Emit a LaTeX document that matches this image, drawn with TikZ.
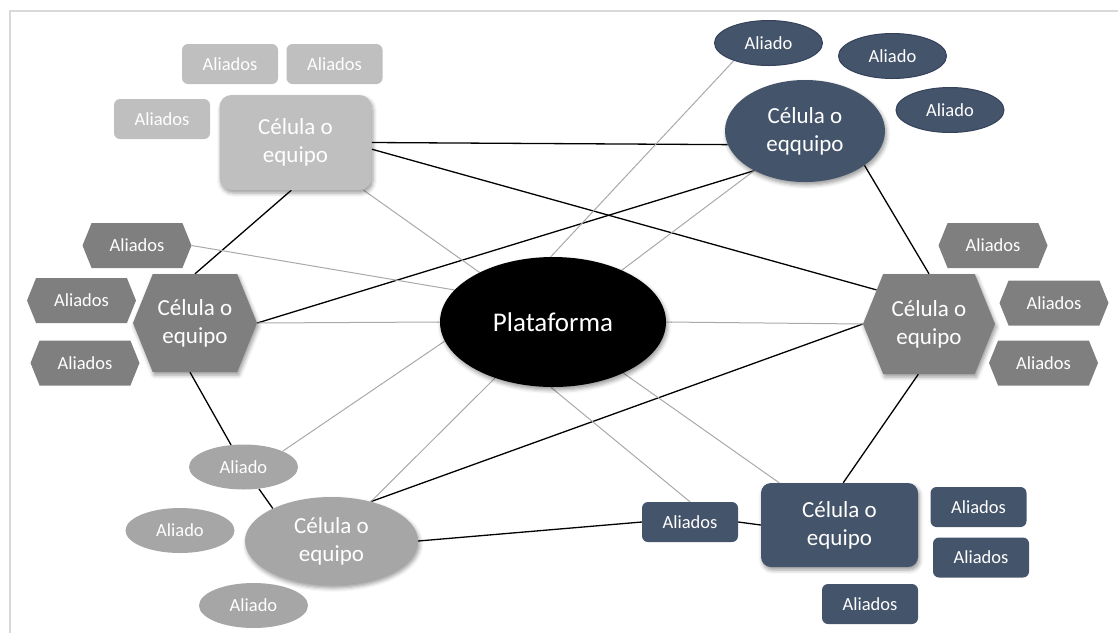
\documentclass[tikz,border=0pt]{standalone}
\usepackage{fontspec}
\setmainfont{Carlito}
\usetikzlibrary{shapes.geometric,shapes.symbols,shadows.blur,backgrounds}

\definecolor{slate}{HTML}{44546A}
\definecolor{slateedge}{HTML}{35425A}
\definecolor{lightgrey}{HTML}{BFBFBF}
\definecolor{midgrey}{HTML}{A6A6A6}
\definecolor{darkgrey}{HTML}{7F7F7F}
\definecolor{linkgrey}{HTML}{A9A9A9}
\definecolor{framegrey}{HTML}{D9D9D9}

\tikzset{
  softshadow/.style={blur shadow={shadow xshift=1.5pt, shadow yshift=-3pt,
      shadow blur radius=4pt, shadow opacity=40}},
  celltext/.style={text=white, align=center, inner sep=0pt,
      font=\fontsize{23}{28}\selectfont},
  allytext/.style={text=white, inner sep=0pt, font=\fontsize{18.5}{22}\selectfont},
  hubnode/.style={ellipse, fill=black, inner sep=0pt, text=white,
      minimum width=226pt, minimum height=130pt,
      font=\fontsize{27}{32}\selectfont, softshadow},
  % team cells
  lightcell/.style={celltext, rectangle, rounded corners=12pt, fill=lightgrey,
      minimum width=152pt, minimum height=95pt, softshadow},
  slateoval/.style={celltext, ellipse, fill=slate,
      minimum width=160pt, minimum height=102pt, softshadow},
  greyhex/.style={celltext, signal, signal to=east and west,
      signal pointer angle=136, fill=darkgrey,
      minimum width=124pt, minimum height=98pt, softshadow},
  greyoval/.style={celltext, ellipse, fill=midgrey,
      minimum width=173pt, minimum height=88pt, softshadow},
  slatecell/.style={celltext, rectangle, rounded corners=10pt, fill=slate,
      minimum width=157pt, minimum height=84pt, softshadow},
  % allies
  lightally/.style={allytext, rectangle, rounded corners=6pt, fill=lightgrey,
      minimum width=96pt, minimum height=40pt},
  slateovally/.style={allytext, ellipse, fill=slate, draw=slateedge, line width=1pt,
      minimum width=108pt, minimum height=45pt},
  greyhexally/.style={allytext, signal, signal to=east and west,
      signal pointer angle=136, fill=darkgrey,
      minimum width=109pt, minimum height=45pt},
  greyovally/.style={allytext, ellipse, fill=midgrey,
      minimum width=109pt, minimum height=45pt},
  slateally/.style={allytext, rectangle, rounded corners=6pt, fill=slate,
      minimum width=96pt, minimum height=40pt},
  % links
  strong/.style={draw=black, line width=1.3pt},
  weak/.style={draw=linkgrey, line width=1pt},
}

\begin{document}
\begin{tikzpicture}[x=1pt, y=-1pt]
  \useasboundingbox (0,0) rectangle (1118,633);

  % central platform
  \node[hubnode] (plat) at (553,322) {Plataforma};

  % top-left cell and its allies
  \node[lightcell] (tl) at (295.5,142.5) {Célula o\\equipo};
  \node[lightally] (tla1) at (230,64) {Aliados};
  \node[lightally] (tla2) at (334.5,64) {Aliados};
  \node[lightally] (tla3) at (162,119) {Aliados};

  % top-right cell and its allies
  \node[slateoval] (tr) at (805,131) {Célula o\\eqquipo};
  \node[slateovally] (tra1) at (768.5,43) {Aliado};
  \node[slateovally] (tra2) at (892.5,56) {Aliado};
  \node[slateovally] (tra3) at (950,110) {Aliado};

  % left cell and its allies
  \node[greyhex] (lhex) at (195,323) {Célula o\\equipo};
  \node[greyhexally] (lha1) at (137,245.5) {Aliados};
  \node[greyhexally] (lha2) at (81.5,300.5) {Aliados};
  \node[greyhexally] (lha3) at (85,363) {Aliados};

  % right cell and its allies
  \node[greyhex, minimum width=132pt, minimum height=100pt] (rhex) at (929,324) {Célula o\\equipo};
  \node[greyhexally] (rha1) at (993,245.5) {Aliados};
  \node[greyhexally] (rha2) at (1054,303) {Aliados};
  \node[greyhexally] (rha3) at (1043.5,363) {Aliados};

  % bottom-left cell and its allies
  \node[greyoval] (bl) at (331.5,541) {Célula o\\equipo};
  \node[greyovally] (bla1) at (243.5,467) {Aliado};
  \node[greyovally] (bla2) at (180,530.5) {Aliado};
  \node[greyovally] (bla3) at (253.5,605.5) {Aliado};

  % bottom-right cell and its allies
  \node[slatecell] (br) at (839.5,525) {Célula o\\equipo};
  \node[slateally] (bra) at (690,522) {Aliados};
  \node[slateally] (brb) at (978.5,507) {Aliados};
  \node[slateally] (brc) at (981,557.5) {Aliados};
  \node[slateally] (brd) at (870,604) {Aliados};

  \begin{scope}[on background layer]
    % page frame
    \draw[framegrey, line width=1.5pt] (10,633) -- (10,11) -- (1118,11);

    % links between cells
    \draw[strong] (tl.east) -- (tr.190);
    \draw[strong] (tl.-5) -- (rhex.147);
    \draw[strong] (tl.-95) -- (lhex.north);
    \draw[strong] (lhex.east) -- (tr.218);
    \draw[strong] ([xshift=-5pt]lhex.south) -- (bla1);
    \draw[strong] (bla1) -- (bl.151);
    \draw[strong] (bl.45) -- (rhex.west);
    \draw[strong] (bl.east) -- (bra.west);
    \draw[strong] (bra.east) -- (br.west);
    \draw[strong] (br.85) -- (rhex.-102);
    \draw[strong] (tr.-30) -- (rhex.north);

    % links to the platform
    \draw[weak] (tl.-35) -- (plat.146);
    \draw[weak] (lha1.east) -- (plat.162);
    \draw[weak] (lhex.east) -- (plat.west);
    \draw[weak] (plat.190) -- (bla1.22);
    \draw[weak] (plat.224) -- (bl.45);
    \draw[weak] (plat.-92) -- (bra.north);
    \draw[weak] (plat.-36) -- (br.145);
    \draw[weak] (plat.east) -- (rhex.west);
    \draw[weak] (plat.92) -- (tra1.207);
    \draw[weak] (plat.37) -- (tr.218);
  \end{scope}
\end{tikzpicture}
\end{document}
